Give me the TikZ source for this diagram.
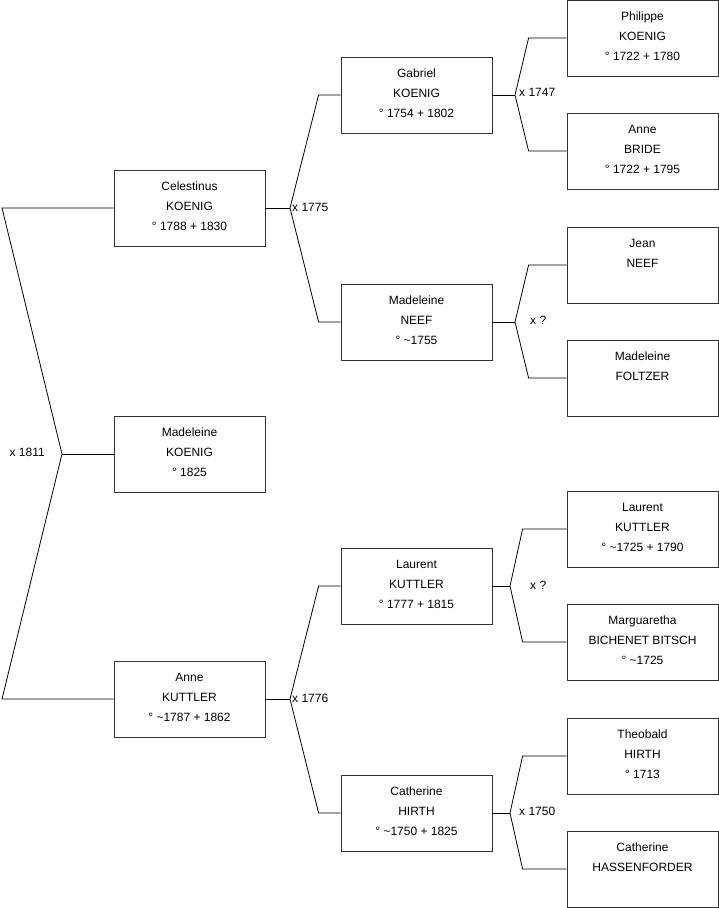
\documentclass[tikz,border=0pt]{standalone}
\usepackage{fontspec}
\setmainfont{Liberation Sans}
\tikzset{
  person/.style={draw=black!80, line width=0.8pt, minimum width=151pt,
    minimum height=76pt, inner sep=0pt, align=center, text depth=4pt,
    font=\fontsize{12}{20}\selectfont},
  wed/.style={anchor=west, inner sep=1pt, font=\fontsize{12}{14}\selectfont},
  link/.style={line width=0.8pt}
}
\begin{document}
\begin{tikzpicture}[x=1pt, y=-1pt]
  \useasboundingbox (0,0) rectangle (719,908);
  % generation 1
  \node[person] (celestinus) at (189.5,208) {Celestinus\\KOENIG\\° 1788 + 1830};
  \node[person] (madeleine) at (189.5,454) {Madeleine\\KOENIG\\° 1825};
  \node[person] (anne) at (189.5,699) {Anne\\KUTTLER\\° \textasciitilde1787 + 1862};
  % generation 2
  \node[person] (gabriel) at (416.5,95) {Gabriel\\KOENIG\\° 1754 + 1802};
  \node[person] (neef) at (416.5,322) {Madeleine\\NEEF\\° \textasciitilde1755};
  \node[person] (laurent) at (416.5,586) {Laurent\\KUTTLER\\° 1777 + 1815};
  \node[person] (hirth) at (416.5,813) {Catherine\\HIRTH\\° \textasciitilde1750 + 1825};
  % generation 3
  \node[person] (philippe) at (642.5,38) {Philippe\\KOENIG\\° 1722 + 1780};
  \node[person] (bride) at (642.5,151) {Anne\\BRIDE\\° 1722 + 1795};
  \node[person] (jean) at (642.5,265) {Jean\\NEEF\\\mbox{}};
  \node[person] (foltzer) at (642.5,378) {Madeleine\\FOLTZER\\\mbox{}};
  \node[person] (laurentk) at (642.5,529) {Laurent\\KUTTLER\\° \textasciitilde1725 + 1790};
  \node[person] (bitsch) at (642.5,642) {Marguaretha\\BICHENET BITSCH\\° \textasciitilde1725};
  \node[person] (theobald) at (642.5,756) {Theobald\\HIRTH\\° 1713};
  \node[person] (hassen) at (642.5,869) {Catherine\\HASSENFORDER\\\mbox{}};
  % forks
  \coordinate (top) at (2,208);
  \coordinate (bot) at (2,699);
  \coordinate (f0) at (62,454);
  \coordinate (f1) at (290,208);
  \coordinate (f2) at (290,699);
  \coordinate (f3) at (515,95);
  \coordinate (f4) at (515,322);
  \coordinate (f5) at (510,586);
  \coordinate (f6) at (510,813);
  \draw[link] (celestinus.west) -- (top) -- (f0) -- (bot) -- (anne.west);
  \draw[link] (f0) -- (madeleine.west);
  \draw[link] (celestinus.east) -- (f1);
  \draw[link] (gabriel.west) -- ++(-22,0) -- (f1) -- ([xshift=-22pt]neef.west) -- (neef.west);
  \draw[link] (anne.east) -- (f2);
  \draw[link] (laurent.west) -- ++(-22,0) -- (f2) -- ([xshift=-22pt]hirth.west) -- (hirth.west);
  \draw[link] (gabriel.east) -- (f3);
  \draw[link] (philippe.west) -- ++(-38,0) -- (f3) -- ([xshift=-38pt]bride.west) -- (bride.west);
  \draw[link] (neef.east) -- (f4);
  \draw[link] (jean.west) -- ++(-38,0) -- (f4) -- ([xshift=-38pt]foltzer.west) -- (foltzer.west);
  \draw[link] (laurent.east) -- (f5);
  \draw[link] (laurentk.west) -- ++(-44,0) -- (f5) -- ([xshift=-44pt]bitsch.west) -- (bitsch.west);
  \draw[link] (hirth.east) -- (f6);
  \draw[link] (theobald.west) -- ++(-44,0) -- (f6) -- ([xshift=-44pt]hassen.west) -- (hassen.west);
  % marriages
  \node[wed, anchor=east] (m0) at (46,452) {x 1811};
  \node[wed] (m1) at (291,207) {x 1775};
  \node[wed] (m2) at (291,698) {x 1776};
  \node[wed] (m3) at (518,92) {x 1747};
  \node[wed] (m4) at (529,320) {x ?};
  \node[wed] (m5) at (529,585) {x ?};
  \node[wed] (m6) at (518,811) {x 1750};
\end{tikzpicture}
\end{document}
